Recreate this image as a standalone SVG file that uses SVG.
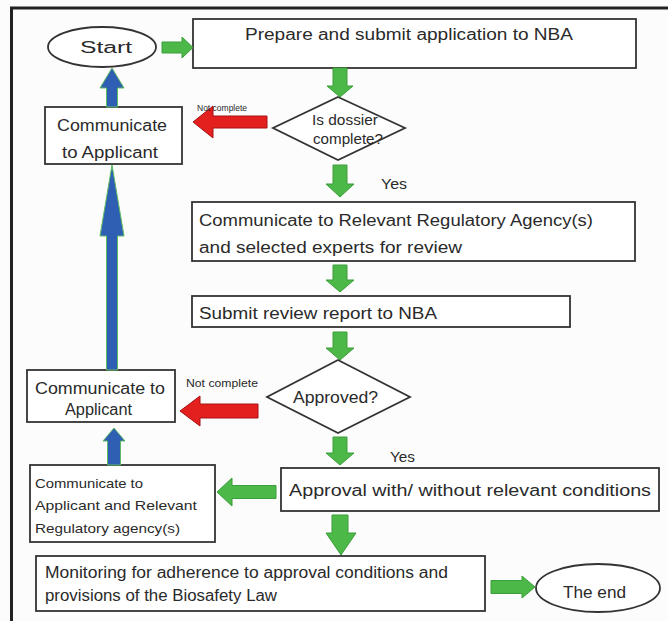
<svg xmlns="http://www.w3.org/2000/svg" width="668" height="621" viewBox="0 0 668 621">
<style>
text{font-family:"Liberation Sans","Open Sans",sans-serif;fill:#2a2a2a}
.box{fill:#fff;stroke:#333;stroke-width:1.8}
.t17{font-size:16px}
.t15{font-size:14.5px}
.t14{font-size:13.5px}
.t10{font-size:10px}
.t9{font-size:8.5px}
.g{fill:#4cb848;stroke:#3a9e3a;stroke-width:1}
.r{fill:#e4201e;stroke:#a51212;stroke-width:1}
.b{fill:#2f5fb3;stroke:#5dbb63;stroke-width:1}
</style>
<rect width="668" height="621" fill="#fcfcfc"/>
<path d="M11.5,621 V8 H668" fill="none" stroke="#222" stroke-width="3"/>

<g id="start">
<ellipse cx="102" cy="47" rx="54" ry="20" class="box"/>
<text x="106" y="53" class="t17" text-anchor="middle" textLength="52" lengthAdjust="spacingAndGlyphs">Start</text>
</g>
<g id="prepare">
<rect x="193" y="19" width="443" height="49" class="box"/>
<text x="245" y="40" class="t17" textLength="328" lengthAdjust="spacingAndGlyphs">Prepare and submit application to NBA</text>
</g>
<g id="dossier">
<polygon points="338,97 405,128 338,160 273,128" class="box"/>
<text x="312" y="125" class="t15" textLength="66" lengthAdjust="spacingAndGlyphs">Is dossier</text>
<text x="313" y="144" class="t15" textLength="70" lengthAdjust="spacingAndGlyphs">complete?</text>
</g>
<g id="comm1">
<rect x="45" y="107" width="137" height="57" class="box"/>
<text x="57" y="131" class="t17" textLength="110" lengthAdjust="spacingAndGlyphs">Communicate</text>
<text x="62" y="158" class="t17" textLength="96" lengthAdjust="spacingAndGlyphs">to Applicant</text>
</g>
<g id="relevant">
<rect x="192" y="202" width="443" height="59" class="box"/>
<text x="199" y="226" class="t17" textLength="394" lengthAdjust="spacingAndGlyphs">Communicate to  Relevant Regulatory Agency(s)</text>
<text x="199" y="253" class="t17" textLength="263" lengthAdjust="spacingAndGlyphs">and selected  experts for review</text>
</g>
<g id="submit">
<rect x="192" y="296" width="378" height="31" class="box"/>
<text x="199" y="319" class="t17" textLength="238" lengthAdjust="spacingAndGlyphs">Submit review  report to NBA</text>
</g>
<g id="approved">
<polygon points="338,360 410,397 338,433 267,397" class="box"/>
<text x="293" y="403" class="t17" textLength="85" lengthAdjust="spacingAndGlyphs">Approved?</text>
</g>
<g id="comm2">
<rect x="27" y="370" width="148" height="52" class="box"/>
<text x="35" y="394" class="t17" textLength="130" lengthAdjust="spacingAndGlyphs">Communicate to</text>
<text x="65" y="415" class="t17" textLength="67" lengthAdjust="spacingAndGlyphs">Applicant</text>
</g>
<g id="approval">
<rect x="281" y="468" width="378" height="43" class="box"/>
<text x="289" y="496" class="t17" textLength="362" lengthAdjust="spacingAndGlyphs">Approval with/ without relevant conditions</text>
</g>
<g id="comm3">
<rect x="30" y="465" width="185" height="77" class="box"/>
<text x="35" y="488" class="t14" textLength="108" lengthAdjust="spacingAndGlyphs">Communicate to</text>
<text x="35" y="510" class="t14" textLength="162" lengthAdjust="spacingAndGlyphs">Applicant and Relevant</text>
<text x="35" y="533" class="t14" textLength="145" lengthAdjust="spacingAndGlyphs">Regulatory agency(s)</text>
</g>
<g id="monitoring">
<rect x="36" y="556" width="449" height="55" class="box"/>
<text x="45" y="578" class="t17" textLength="403" lengthAdjust="spacingAndGlyphs">Monitoring for adherence to approval conditions and</text>
<text x="45" y="601" class="t17" textLength="232" lengthAdjust="spacingAndGlyphs">provisions of the Biosafety Law</text>
</g>
<g id="end">
<ellipse cx="598" cy="588" rx="62" ry="24" class="box"/>
<text x="563" y="598" class="t17" textLength="63" lengthAdjust="spacingAndGlyphs">The end</text>
</g>

<g id="connectors">
<path class="g" d="M162,42 H182 V37 L193,47.5 L182,58 V53 H162 Z"/>
<path class="g" d="M333,68 H347 V86 H353 L340,97 L327,86 H333 Z"/>
<path class="g" d="M333,165 H347 V184 H354 L340,197 L326,184 H333 Z"/>
<path class="g" d="M333,265 H347 V280 H354 L340,292 L326,280 H333 Z"/>
<path class="g" d="M333,332 H347 V348 H354 L340,360 L326,348 H333 Z"/>
<path class="g" d="M333,437 H347 V453 H354 L340,465 L326,453 H333 Z"/>
<path class="g" d="M332,515 H348 V533 H356 L341,555 L326,533 H332 Z"/>
<path class="g" d="M276,485.5 H232 V478 L217,492 L232,506 V498.5 H276 Z"/>
<path class="g" d="M491,580.5 H522 V576 L535,587 L522,598 V593.5 H491 Z"/>
<path class="r" d="M267,116 H213 V106 L193,122 L213,138 V128 H267 Z"/>
<path class="r" d="M258,404 H200 V396 L180,411 L200,426 V418 H258 Z"/>
<path class="b" d="M106.5,107 V88 H100 L112,68 L124,88 H117.5 V107 Z"/>
<path class="b" d="M106.5,370 V236 H100 L112,165 L124,236 H117.5 V370 Z"/>
<path class="b" d="M107.5,465 V441 H103 L114,428 L125,441 H120.5 V465 Z"/>
<text x="197" y="111" class="t9">Not complete</text>
<text x="186" y="387" class="t10" textLength="72" lengthAdjust="spacingAndGlyphs">Not complete</text>
<text x="381" y="189" class="t15" textLength="26" lengthAdjust="spacingAndGlyphs">Yes</text>
<text x="390" y="462" class="t15" textLength="25" lengthAdjust="spacingAndGlyphs">Yes</text>
</g>
</svg>
